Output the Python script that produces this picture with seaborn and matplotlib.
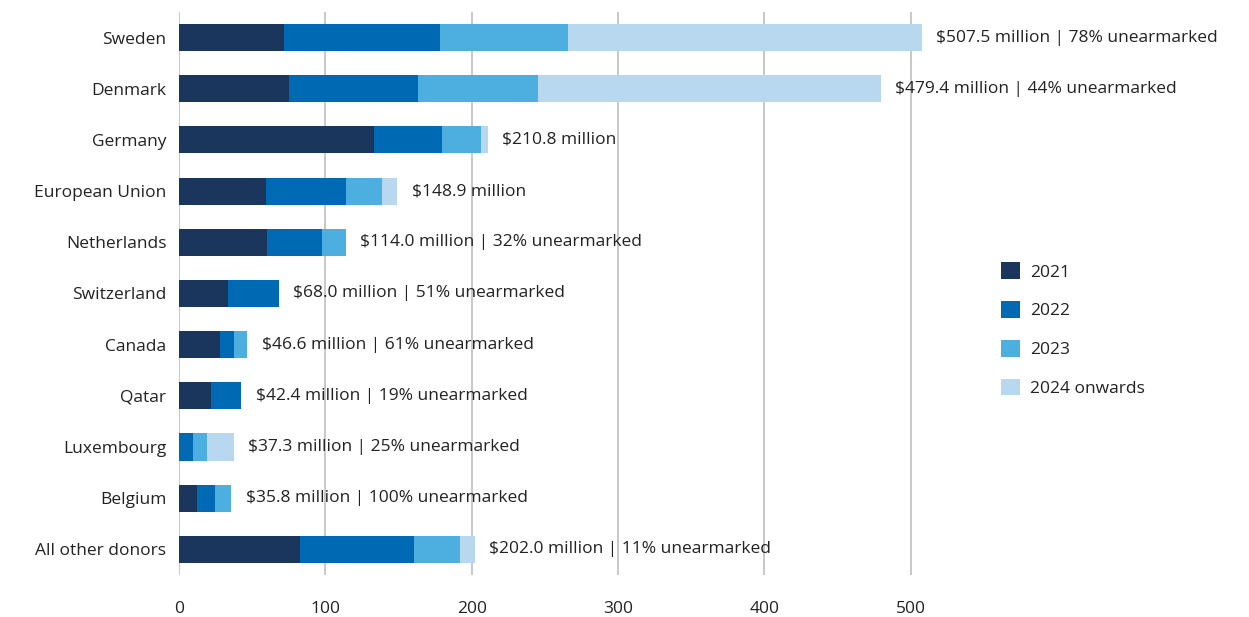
import seaborn as sns
import matplotlib.pyplot as plt
import pandas as pd
import numpy as np
from matplotlib.patches import Patch

# donors, top to bottom
donors = ['Sweden', 'Denmark', 'Germany', 'European Union', 'Netherlands', 'Switzerland',
          'Canada', 'Qatar', 'Luxembourg', 'Belgium', 'All other donors']

# funding per year (US$ million)
y2021 = [72.0, 75.0, 133.0, 59.5, 60.0, 33.5, 28.0, 22.0, 0.0, 12.0, 82.5]
y2022 = [106.0, 88.0, 46.5, 54.5, 38.0, 34.5, 9.5, 20.4, 9.5, 12.5, 78.0]
y2023 = [88.0, 82.0, 26.5, 24.5, 16.0, 0.0, 9.1, 0.0, 9.5, 11.3, 31.5]
y2024 = [241.5, 234.4, 4.8, 10.4, 0.0, 0.0, 0.0, 0.0, 18.3, 0.0, 10.0]

labels = ['$507.5 million | 78% unearmarked', '$479.4 million | 44% unearmarked',
          '$210.8 million', '$148.9 million', '$114.0 million | 32% unearmarked',
          '$68.0 million | 51% unearmarked', '$46.6 million | 61% unearmarked',
          '$42.4 million | 19% unearmarked', '$37.3 million | 25% unearmarked',
          '$35.8 million | 100% unearmarked', '$202.0 million | 11% unearmarked']

years = ['2021', '2022', '2023', '2024 onwards']
colors = ['#1b365d', '#0069b4', '#4daee0', '#b8d8f0']

sns.set_style('white')
plt.rcParams['font.family'] = ['Open Sans', 'DejaVu Sans']
text_col = '#222222'

df = pd.DataFrame({'donor': donors, '2021': y2021, '2022': y2022,
                   '2023': y2023, '2024 onwards': y2024})
cum = df[years].cumsum(axis=1)

fig = plt.figure(figsize=(12.49, 6.17), dpi=100)
ax = fig.add_axes([0.1433, 0.0681, 0.6094, 0.9125])

# stacked bars: draw the cumulative totals from longest to shortest
for yr, c in reversed(list(zip(years, colors))):
    sns.barplot(x=cum[yr], y=df['donor'], color=c, width=0.53, orient='h',
                saturation=1, ax=ax, linewidth=0)

for i, lab in enumerate(labels):
    ax.annotate(lab, (cum['2024 onwards'][i], i), xytext=(10.5, 0), textcoords='offset points',
                va='center', ha='left', fontsize=12.5, color=text_col, clip_on=False,
                annotation_clip=False)

ax.set_xlim(0, 520)
ax.set_ylim(10.5, -0.5)
ax.set_xticks([0, 100, 200, 300, 400, 500])
ax.grid(axis='x', color='#c4c4c4', linewidth=1.3)
ax.set_axisbelow(True)
sns.despine(ax=ax, left=True, bottom=True)
ax.set_xlabel('')
ax.set_ylabel('')
ax.tick_params(axis='both', length=0, labelsize=12.5, labelcolor=text_col)
ax.tick_params(axis='x', pad=19)
ax.tick_params(axis='y', pad=9)

handles = [Patch(facecolor=c, edgecolor='none', label=yr) for yr, c in zip(years, colors)]
fig.legend(handles=handles, loc='upper left', bbox_to_anchor=(0.789, 0.6), frameon=False,
           fontsize=12.5, handlelength=1.1, handleheight=1.1, labelspacing=1.18,
           handletextpad=0.55, labelcolor=text_col)

fig.savefig('out.png', dpi=100)
